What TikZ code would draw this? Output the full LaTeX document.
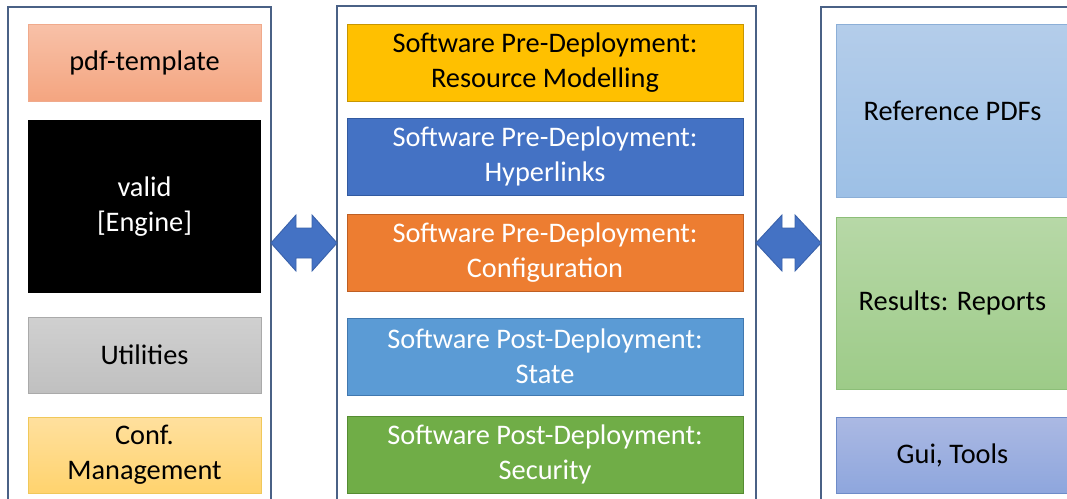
\documentclass[tikz,border=0pt]{standalone}
\usepackage{fontspec}
\setmainfont{Carlito}
\begin{document}
\begin{tikzpicture}[x=0.03cm,y=-0.03cm,
  panel/.style={draw=panelc,line width=1.4pt},
  blk/.style={minimum width=#1*0.03cm,inner sep=0pt,align=center,font=\fontsize{24.2}{30}\selectfont,line width=0.8pt},
  blk/.default=233,
  bigarrow/.style={fill=arrowc,draw=arrowd,line width=0.8pt,line join=miter}]
\definecolor{panelc}{HTML}{4A6186}
\definecolor{arrowc}{HTML}{4472C4}
\definecolor{arrowd}{HTML}{3A62AB}
\useasboundingbox (0,0) rectangle (1067,498);
\begin{scope}
\clip (0,0) rectangle (1067,498);
% panels
\draw[panel] (8,7) rectangle (271,520);
\draw[panel] (337,6) rectangle (756,520);
\draw[panel] (821,7) rectangle (1090,520);
\coordinate (lp) at (271,243);
\coordinate (mpl) at (337,243);
\coordinate (mpr) at (756,243);
\coordinate (rp) at (821,243);
% left column
\node[blk, minimum height=77*0.03cm, top color={rgb,255:red,248;green,193;blue,168}, bottom color={rgb,255:red,244;green,165;blue,128}, draw={rgb,255:red,240;green,170;blue,140}] (pdf) at (144.5,62.5) {pdf-template};
\node[blk, minimum height=173*0.03cm, fill=black, text=white] (valid) at (144.5,206.5) {valid\\{}[Engine]};
\node[blk, minimum height=76*0.03cm, top color={rgb,255:red,208;green,208;blue,208}, bottom color={rgb,255:red,192;green,192;blue,192}, draw={rgb,255:red,170;green,170;blue,170}] (util) at (144.5,355) {Utilities};
\node[blk, minimum height=76*0.03cm, top color={rgb,255:red,255;green,224;blue,158}, bottom color={rgb,255:red,255;green,211;blue,110}, draw={rgb,255:red,240;green,200;blue,90}] (conf) at (144.5,455) {Conf.\\Management};
% middle column
\node[blk=396, minimum height=77*0.03cm, fill={rgb,255:red,255;green,192;blue,0}, draw={rgb,255:red,200;green,150;blue,0}] (m1) at (545,62.5) {Software Pre-Deployment:\\Resource Modelling};
\node[blk=396, minimum height=77*0.03cm, fill={rgb,255:red,68;green,114;blue,196}, draw={rgb,255:red,50;green,90;blue,160}, text=white] (m2) at (545,156.5) {Software Pre-Deployment:\\Hyperlinks};
\node[blk=396, minimum height=77*0.03cm, fill={rgb,255:red,237;green,125;blue,49}, draw={rgb,255:red,190;green,95;blue,35}, text=white] (m3) at (545,252.5) {Software Pre-Deployment:\\Configuration};
\node[blk=396, minimum height=77*0.03cm, fill={rgb,255:red,91;green,155;blue,213}, draw={rgb,255:red,65;green,120;blue,175}, text=white] (m4) at (545,356.5) {Software Post-Deployment:\\State};
\node[blk=396, minimum height=77*0.03cm, fill={rgb,255:red,112;green,173;blue,71}, draw={rgb,255:red,85;green,140;blue,50}, text=white] (m5) at (545,454.5) {Software Post-Deployment:\\Security};
% right column
\node[blk=233, minimum height=173*0.03cm, top color={rgb,255:red,180;green,205;blue,234}, bottom color={rgb,255:red,157;green,192;blue,230}, draw={rgb,255:red,140;green,175;blue,215}] (ref) at (952.5,110.5) {Reference PDFs};
\node[blk=233, minimum height=172*0.03cm, top color={rgb,255:red,183;green,216;blue,167}, bottom color={rgb,255:red,157;green,203;blue,136}, draw={rgb,255:red,140;green,190;blue,120}] (res) at (952.5,303) {Results: Reports};
\node[blk=233, minimum height=76*0.03cm, top color={rgb,255:red,171;green,185;blue,227}, bottom color={rgb,255:red,142;green,166;blue,221}, draw={rgb,255:red,110;green,140;blue,200}] (gui) at (952.5,455) {Gui, Tools};
% block arrows
\draw[bigarrow] (lp) -- ++(25,-28) -- ++(0,13) -- ++(16,0) -- ++(0,-13) -- (mpl) -- ++(-25,28) -- ++(0,-13) -- ++(-16,0) -- ++(0,13) -- cycle;
\draw[bigarrow] (mpr) -- ++(26,-28) -- ++(0,13) -- ++(13,0) -- ++(0,-13) -- (rp) -- ++(-26,28) -- ++(0,-13) -- ++(-13,0) -- ++(0,13) -- cycle;
\end{scope}
\end{tikzpicture}
\end{document}
